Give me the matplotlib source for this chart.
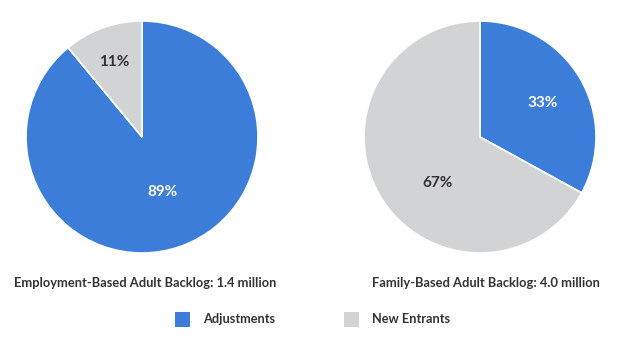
import matplotlib.pyplot as plt
from matplotlib.patches import Rectangle

# ================= DATA =================
categories = ["Adjustments", "New Entrants"]
employment_shares = [89, 11]
family_shares = [33, 67]
titles = ["Employment-Based Adult Backlog: 1.4 million",
          "Family-Based Adult Backlog: 4.0 million"]

# ================= STYLE =================
BLUE = "#3b7dd8"
GRAY = "#d1d3d5"
TEXT = "#333333"
colors = [BLUE, GRAY]
label_colors = ["white", TEXT]
plt.rcParams['font.family'] = ['Lato', 'DejaVu Sans']

W, H = 624, 349
fig = plt.figure(figsize=(W / 100, H / 100), dpi=100)


def pix_axes(cx, cy, r):
    return fig.add_axes([(cx - r) / W, (H - cy - r) / H, 2 * r / W, 2 * r / H])


# label positions in pie units
label_pos = [
    [(0.18, -0.47), (-0.24, 0.65)],
    [(0.54, 0.29), (-0.37, -0.40)],
]

for i, (shares, cx) in enumerate([(employment_shares, 142), (family_shares, 480)]):
    ax = pix_axes(cx, 137, 116)
    wedges, _ = ax.pie(shares, colors=colors, startangle=90, counterclock=False,
                       radius=1, wedgeprops=dict(edgecolor="white", linewidth=1.2))
    for val, (x, y), c in zip(shares, label_pos[i], label_colors):
        ax.text(x, y, f"{val}%", ha="center", va="center", color=c,
                fontsize=11, fontweight="bold")
    ax.set_xlim(-1, 1)
    ax.set_ylim(-1, 1)
    ax.set_aspect("equal")
    ax.axis("off")

# titles under pies
fig.text(14 / W, 1 - 283 / H, titles[0], ha="left", va="center",
         fontsize=9.3, fontweight="bold", color=TEXT)
fig.text(372 / W, 1 - 283 / H, titles[1], ha="left", va="center",
         fontsize=9.3, fontweight="bold", color=TEXT)

# legend
for (x0, tx), lab, col in zip([(175, 203), (344, 372)], categories, colors):
    fig.patches.append(Rectangle((x0 / W, 1 - 327 / H), 15 / W, 15 / H,
                                 transform=fig.transFigure, facecolor=col,
                                 edgecolor="none"))
    fig.text(tx / W, 1 - 319 / H, lab, ha="left", va="center",
             fontsize=9.2, fontweight="bold", color=TEXT)

fig.savefig("out.png", dpi=100, facecolor="white")
